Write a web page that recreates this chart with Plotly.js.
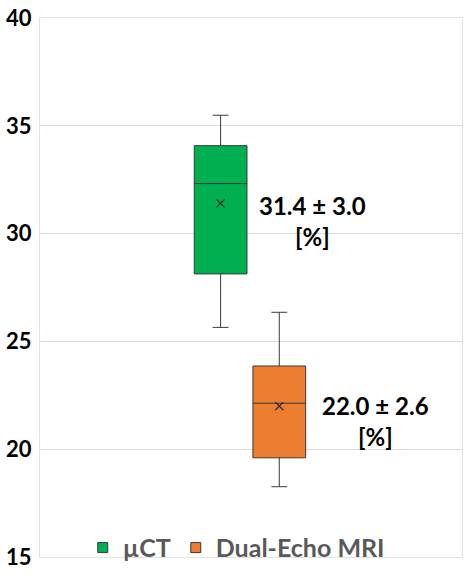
<!DOCTYPE html>
<html>
<head>
<meta charset="utf-8">
<script src="https://cdn.plot.ly/plotly-3.0.1.min.js"></script>
<style>
  html, body { margin: 0; padding: 0; background: #fff; }
  #chart { width: 474px; height: 575px; }
</style>
</head>
<body>
<div id="chart"></div>
<script>
// values
let groups = ['µCT', 'Dual-Echo MRI'];
let lowerFence = [25.65, 18.26];
let q1Values = [28.13, 19.6];
let medianValues = [32.32, 22.13];
let q3Values = [34.08, 23.86];
let upperFence = [35.49, 26.35];
let meanValues = [31.4, 22.0];
let sdValues = [3.0, 2.6];

let colors = ['#00b050', '#ed7d31'];
let boxX = [0.428, 0.567];
let labelX = [0.645, 0.794];
let labelY = [30.6, 21.3];

let traces = [];
let annotations = [];

for (let i = 0; i < groups.length; i++) {
    traces.push({
        type: 'box',
        name: groups[i],
        x: [boxX[i]],
        q1: [q1Values[i]],
        median: [medianValues[i]],
        q3: [q3Values[i]],
        lowerfence: [lowerFence[i]],
        upperfence: [upperFence[i]],
        width: 0.125,
        whiskerwidth: 0.3,
        fillcolor: colors[i],
        line: { color: '#3a3a3a', width: 1 },
        showlegend: false,
        hoverinfo: 'skip'
    });
    traces.push({
        type: 'scatter',
        mode: 'markers',
        x: [boxX[i]],
        y: [meanValues[i]],
        marker: { symbol: 'x-thin', size: 8, line: { color: '#222', width: 1.2 } },
        showlegend: false,
        hoverinfo: 'skip'
    });
    // legend entry: small square like the original
    traces.push({
        type: 'scatter',
        mode: 'markers',
        name: groups[i],
        x: [null],
        y: [null],
        marker: { symbol: 'square', size: 10, color: colors[i], line: { color: '#3a3a3a', width: 1 } },
        hoverinfo: 'skip'
    });
    annotations.push({
        x: labelX[i],
        y: labelY[i],
        xref: 'x',
        yref: 'y',
        text: '<b>' + meanValues[i].toFixed(1) + ' ± ' + sdValues[i].toFixed(1) + '</b><br><b>[%]</b>',
        showarrow: false,
        font: { family: 'Lato, sans-serif', size: 24, color: '#000' },
        align: 'center'
    });
}

let layout = {
    width: 474,
    height: 575,
    margin: { l: 40, r: 12, t: 18, b: 18, autoexpand: false },
    paper_bgcolor: '#fff',
    plot_bgcolor: '#fff',
    showlegend: true,
    legend: {
        orientation: 'h',
        x: 0.465,
        xanchor: 'center',
        y: 0.017,
        yanchor: 'middle',
        bgcolor: 'rgba(0,0,0,0)',
        font: { family: 'Lato, sans-serif', size: 25, color: '#595959', weight: 'bold' },
        itemwidth: 30
    },
    xaxis: {
        range: [0, 1],
        showticklabels: false,
        showgrid: false,
        zeroline: false,
        showline: true,
        mirror: true,
        linecolor: '#e3e3e3',
        linewidth: 1
    },
    yaxis: {
        range: [15, 40],
        dtick: 5,
        showgrid: true,
        gridcolor: '#dcdcdc',
        zeroline: false,
        showline: true,
        mirror: true,
        linecolor: '#e3e3e3',
        ticks: '',
        ticklabelstandoff: 3,
        tickfont: { family: 'Lato, sans-serif', size: 22, color: '#000', weight: 'bold' }
    },
    annotations: annotations
};

Plotly.newPlot('chart', traces, layout, { displayModeBar: false, staticPlot: true });
</script>
</body>
</html>
